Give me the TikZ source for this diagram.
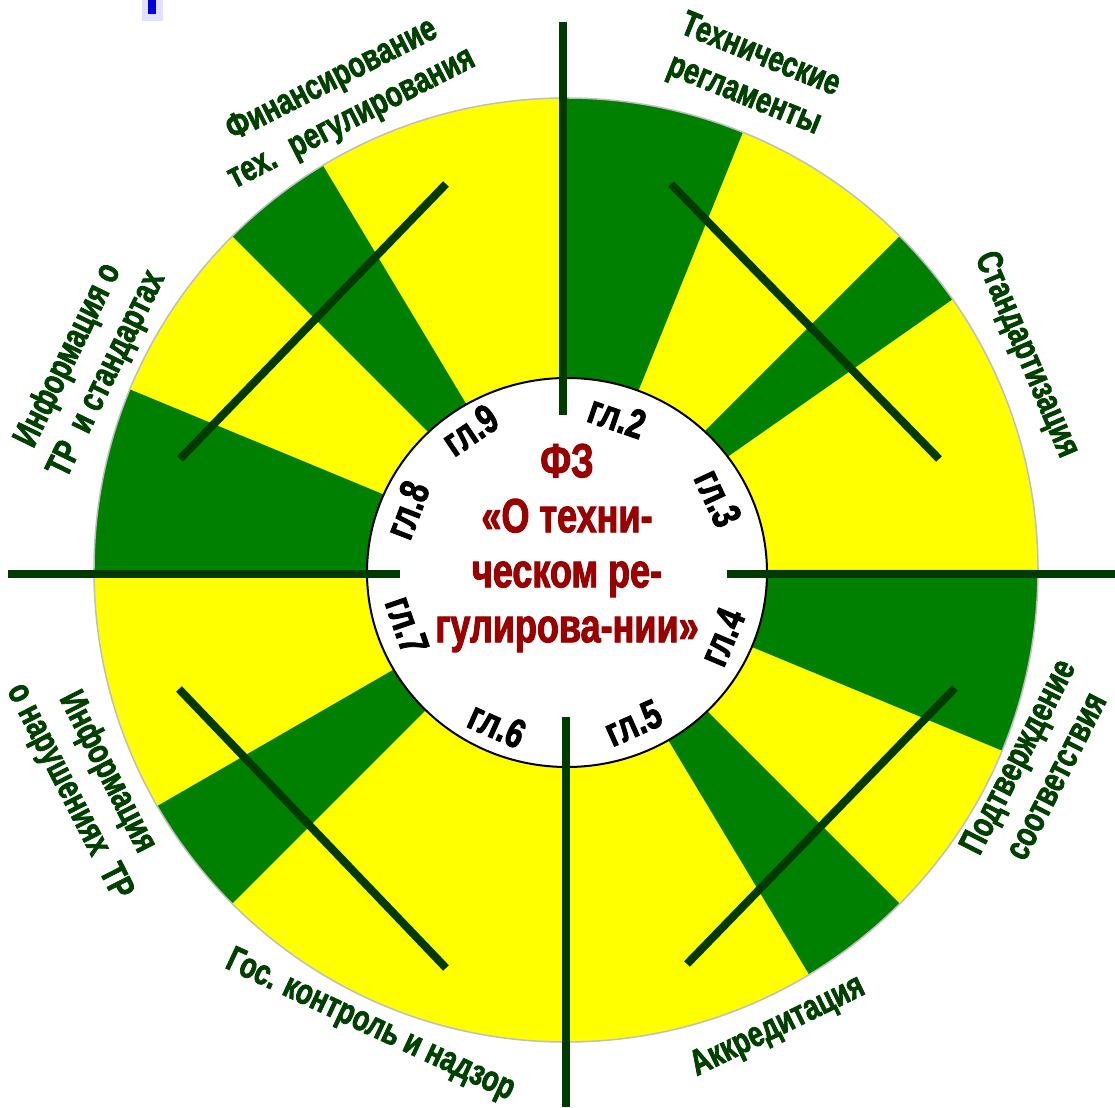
\documentclass[tikz,border=0pt]{standalone}
\usepackage{fontspec}
\newfontfamily\narrowfont[FakeStretch=0.75,FakeBold=2]{Liberation Sans}
\definecolor{ringgreen}{RGB}{0,128,0}
\definecolor{ringyellow}{RGB}{255,255,0}
\definecolor{darkline}{RGB}{0,58,0}
\definecolor{labelgreen}{RGB}{0,64,0}
\definecolor{lawred}{RGB}{153,0,0}
\begin{document}
\begin{tikzpicture}[x=1pt,y=1pt,
  spoke/.style={darkline,line width=8pt},
  chapter/.style={font=\narrowfont\bfseries\fontsize{41}{41}\selectfont,inner sep=0pt},
  sector/.style={font=\narrowfont\bfseries\fontsize{36}{43}\selectfont,text=labelgreen,align=center,inner sep=0pt}]
\useasboundingbox (-566,-537) rectangle (549,570);
\fill[blue!12] (-424,570) rectangle (-403,549);
\fill[blue!85!black] (-418,570) rectangle (-410,556);
\fill[ringyellow] (0,0) circle [radius=472];
\fill[ringgreen] (0,0) -- (68:472) arc [start angle=68, end angle=90, radius=472] -- cycle;
\fill[ringgreen] (0,0) -- (35:472) arc [start angle=35, end angle=45, radius=472] -- cycle;
\fill[ringgreen] (0,0) -- (-22.5:472) arc [start angle=-22.5, end angle=0, radius=472] -- cycle;
\fill[ringgreen] (0,0) -- (-59:472) arc [start angle=-59, end angle=-45, radius=472] -- cycle;
\fill[ringgreen] (0,0) -- (210:472) arc [start angle=210, end angle=225, radius=472] -- cycle;
\fill[ringgreen] (0,0) -- (157.5:472) arc [start angle=157.5, end angle=180, radius=472] -- cycle;
\fill[ringgreen] (0,0) -- (121:472) arc [start angle=121, end angle=135, radius=472] -- cycle;
\draw[black!25,line width=1.5pt] (0,0) circle [radius=472];
\draw[spoke] (105,386)--(373,111);
\draw[spoke] (-120,386)--(-386,111);
\draw[spoke] (-387,-119)--(-120,-398);
\draw[spoke] (389,-118)--(121,-394);
\draw[fill=white,line width=2pt] (1,-2.5) ellipse [x radius=200, y radius=194.5];
\draw[spoke] (-3,548)--(-3,155);
\draw[spoke] (-0.5,-147)--(-0.5,-537);
\draw[spoke] (-558,-4)--(-166,-4);
\draw[spoke] (161,-4)--(549,-4);
\node[font=\narrowfont\bfseries\fontsize{48}{55}\selectfont,text=lawred,align=center,inner sep=0pt] (fz) at (1,22) {ФЗ\\«О техни-\\ческом ре-\\гулирова-нии»};
\node[chapter,rotate=-19] (ch2) at (51,153) {гл.2};
\node[chapter,rotate=-65] (ch3) at (152,72) {гл.3};
\node[chapter,rotate=67] (ch4) at (156,-67) {гл.4};
\node[chapter,rotate=24] (ch5) at (67,-153) {гл.5};
\node[chapter,rotate=-24] (ch6) at (-69,-155) {гл.6};
\node[chapter,rotate=-71] (ch7) at (-159,-55) {гл.7};
\node[chapter,rotate=69] (ch8) at (-159,60) {гл.8};
\node[chapter,rotate=34] (ch9) at (-96,140) {гл.9};
\node[sector,rotate=-22] (techreg) at (186,494) {Технические\\регламенты};
\node[sector,rotate=-67] (standard) at (460,215) {Стандартизация};
\node[sector,rotate=63] (confirm) at (470,-196) {Подтверждение\\соответствия};
\node[sector,rotate=26] (accred) at (212,-457) {Аккредитация};
\node[sector,rotate=-25] (control) at (-196,-456) {Гос. контроль и надзор};
\node[sector,rotate=-63] (infoviol) at (-478,-212) {Информация\\о нарушениях~ ТР};
\node[sector,rotate=64] (infostd) at (-478,205) {Информация о\\ТР~ и стандартах};
\node[sector,rotate=27] (finance) at (-224,470) {Финансирование\\тех.~ регулирования};
\end{tikzpicture}
\end{document}
